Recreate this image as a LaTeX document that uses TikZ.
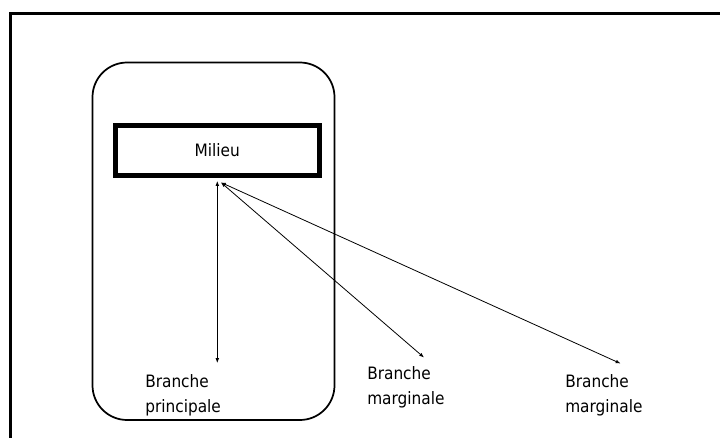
\documentclass[tikz,border=0pt]{standalone}
\usepackage{fontspec}
\setmainfont{DejaVu Sans Condensed}
\usetikzlibrary{arrows.meta}
\begin{document}
\begin{tikzpicture} [
        x=0.75pt, y=-0.75pt,
        frame/.style={draw=black, line width=1.9pt},
        group/.style={draw=black, line width=1.3pt, rounded corners=26pt},
        milieubox/.style={draw=black, rectangle, line width=3.75pt, minimum width=152.6pt, minimum height=37.1pt, inner sep=0pt},
        label/.style={align=left, anchor=base west, inner sep=0pt},
        link/.style={{Latex[length=3.6pt,width=2.8pt]}-{Latex[length=3.6pt,width=2.8pt]}, line width=0.6pt},
        font=\fontsize{12.8pt}{18.6pt}\selectfont ]
    \useasboundingbox (0,0) rectangle (720,438);
    \draw[frame] (10.5,460) -- (10.5,13.5) -- (740,13.5);
    \draw[group] (92.5,62.5) rectangle (334.5,420);
    \node[milieubox] (milieu) at (217.3,150.3) {Milieu};
    % base anchor sits on the second line
    \node[label] (principale) at (145,412) {Branche\\principale};
    \node[label] (marginale1) at (367,404) {Branche\\marginale};
    \node[label] (marginale2) at (565,412) {Branche\\marginale};
    \coordinate (hub1) at (217.3,181);
    \coordinate (hub2) at (221,182.5);
    \coordinate (tip1) at (217.3,363);
    \coordinate (tip2) at (424,357.5);
    \coordinate (tip3) at (620.5,363.5);
    \draw[link] (hub1) -- (tip1);
    \draw[link] (hub2) -- (tip2);
    \draw[link] (hub2) -- (tip3);
\end{tikzpicture}
\end{document}
